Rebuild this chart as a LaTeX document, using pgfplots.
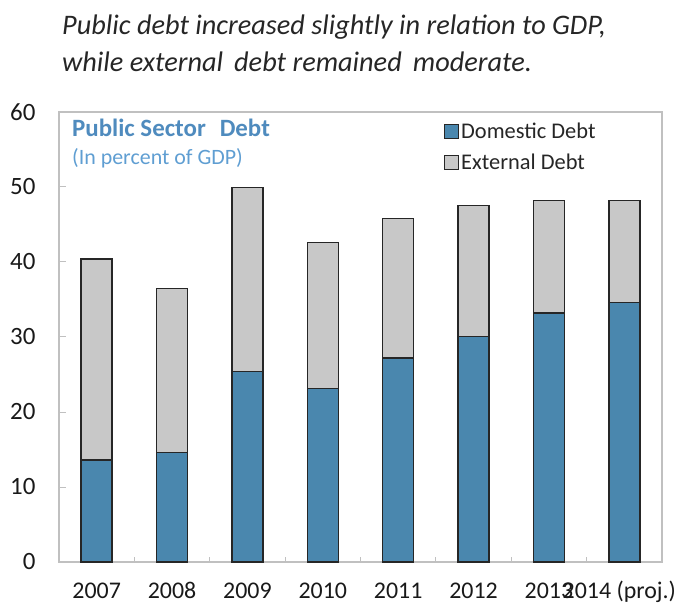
\documentclass[border=0pt]{standalone}
\usepackage{fontspec}
\setmainfont{Carlito}
\usepackage{pgfplots}
\pgfplotsset{compat=1.18}
\definecolor{dom}{RGB}{74,135,174}
\definecolor{ext}{RGB}{200,200,200}
\definecolor{framec}{RGB}{192,192,192}
\definecolor{ttl}{RGB}{79,139,190}
\definecolor{sub}{RGB}{95,158,210}
\begin{document}
\begin{tikzpicture}
\begin{axis}[
  scale only axis, width=603bp, height=450bp,
  ybar stacked, bar width=31bp,
  xmin=-0.5, xmax=7.5, ymin=0, ymax=60,
  xtick={0,1,2,3,4,5,6,7},
  xticklabels={2007,2008,2009,2010,2011,2012,2013,\hspace*{-10bp}2014 (proj.)},
  minor xtick={0.5,1.5,2.5,3.5,4.5,5.5,6.5},
  ytick={0,10,20,30,40,50,60},
  ytick pos=left, xtick pos=bottom,
  tick align=inside,
  major x tick style={draw=none},
  major tick length=7bp, minor tick length=5bp,
  tick style={color=framec, line width=1bp},
  axis line style={color=framec, line width=1.5bp},
  /pgf/number format/assume math mode=true,
  ticklabel style={text=black!90},
  yticklabel style={font=\fontsize{25}{27}\selectfont, xshift=-20bp},
  xticklabel style={font=\fontsize{24}{26}\selectfont, anchor=base, yshift=-36bp},
  legend style={at={(0.633,0.985)}, anchor=north west, draw=none, fill=none,
    font=\fontsize{22.5}{24}\selectfont, text=black!85, row sep=10bp,
    cells={anchor=west}},
  legend image code/.code={\draw[#1, line width=1.3bp, draw=black!85] (0bp,-7bp) rectangle (14bp,7bp);},
  every axis plot/.append style={draw=black!85, line width=1.4bp},
]
\addplot[fill=dom] coordinates {(0,13.6) (1,14.6) (2,25.4) (3,23.1) (4,27.2) (5,30.1) (6,33.2) (7,34.6)};
\addplot[fill=ext] coordinates {(0,26.8) (1,21.9) (2,24.5) (3,19.5) (4,18.6) (5,17.4) (6,15.0) (7,13.6)};
\legend{Domestic Debt, External Debt}
\node[anchor=base west, inner sep=0pt, text=ttl, font=\fontsize{25}{28}\selectfont\bfseries] at ([xshift=13bp,yshift=-25bp]rel axis cs:0,1) {Public Sector\,\, Debt};
\node[anchor=base west, inner sep=0pt, text=sub, font=\fontsize{22}{24}\selectfont] at ([xshift=13bp,yshift=-53bp]rel axis cs:0,1) {(In percent of GDP)};
\end{axis}
\node[anchor=base west, inner sep=0pt, font=\fontsize{28.4}{32}\selectfont\itshape, text=black!85] at ([xshift=3bp,yshift=77bp]current axis.north west) {Public debt increased slightly in relation to GDP,};
\node[anchor=base west, inner sep=0pt, font=\fontsize{28.4}{32}\selectfont\itshape, text=black!85] at ([xshift=3bp,yshift=40bp]current axis.north west) {while external\, debt remained\, moderate.};
\pgfresetboundingbox
\path ([xshift=-59bp,yshift=-43bp]current axis.south west) rectangle ([xshift=19bp,yshift=112bp]current axis.north east);
\end{tikzpicture}
\end{document}
